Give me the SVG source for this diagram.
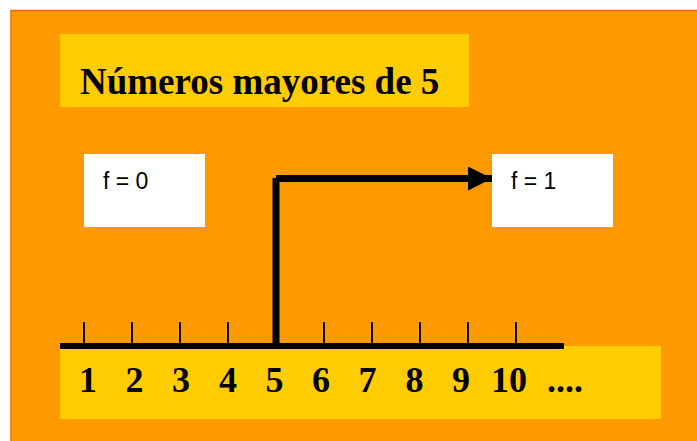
<svg xmlns="http://www.w3.org/2000/svg" width="697" height="441" viewBox="0 0 697 441">
<style>
.num{font-family:"Liberation Serif","Times New Roman",serif;font-weight:bold;font-size:36px;fill:#000;text-anchor:middle}
.lbl{font-family:"Liberation Sans",Arial,sans-serif;font-size:23px;fill:#000}
.box{fill:#fff}
.tick{stroke:#000;stroke-width:2}
</style>
<defs>
<marker id="ah" markerUnits="userSpaceOnUse" markerWidth="24" markerHeight="24" refX="24" refY="12" orient="auto">
<path d="M0,0 L24,12 L0,24 Z" fill="#000"/>
</marker>
</defs>
<rect x="0" y="0" width="697" height="441" fill="#fff"/>
<rect x="11" y="10.5" width="700" height="440" fill="#FF9900" stroke="#FF6600" stroke-width="1.5"/>
<g id="title">
<rect x="60" y="34" width="409" height="73" fill="#FFCC00"/>
<text x="80" y="94" font-family="'Liberation Serif','Times New Roman',serif" font-weight="bold" font-size="37" fill="#000">Números mayores de 5</text>
</g>
<g id="f0">
<rect class="box" x="84" y="154" width="121" height="73"/>
<text class="lbl" x="103" y="189">f = 0</text>
</g>
<g id="f1">
<rect class="box" x="492" y="154" width="121" height="73"/>
<text class="lbl" x="511" y="189">f = 1</text>
</g>
<g id="numberline">
<rect x="60" y="346" width="601" height="73" fill="#FFCC00"/>
<g class="tick">
<line x1="84" y1="322" x2="84" y2="346"/>
<line x1="132" y1="322" x2="132" y2="346"/>
<line x1="180" y1="322" x2="180" y2="346"/>
<line x1="228" y1="322" x2="228" y2="346"/>
<line x1="324" y1="322" x2="324" y2="346"/>
<line x1="372" y1="322" x2="372" y2="346"/>
<line x1="420" y1="322" x2="420" y2="346"/>
<line x1="468" y1="322" x2="468" y2="346"/>
<line x1="516" y1="322" x2="516" y2="346"/>
</g>
<line x1="60" y1="346" x2="564" y2="346" stroke="#000" stroke-width="6"/>
<text class="num" x="88" y="392">1</text>
<text class="num" x="134.5" y="392">2</text>
<text class="num" x="181" y="392">3</text>
<text class="num" x="228" y="392">4</text>
<text class="num" x="274.5" y="392">5</text>
<text class="num" x="321" y="392">6</text>
<text class="num" x="367.5" y="392">7</text>
<text class="num" x="414.5" y="392">8</text>
<text class="num" x="461" y="392">9</text>
<text class="num" x="509" y="392">10</text>
<text class="num" x="565" y="392">....</text>
</g>
<g id="connectors">
<line x1="276" y1="178" x2="276" y2="349" stroke="#000" stroke-width="7"/>
<line x1="276" y1="178.5" x2="492" y2="178.5" stroke="#000" stroke-width="7" marker-end="url(#ah)"/>
</g>
</svg>
